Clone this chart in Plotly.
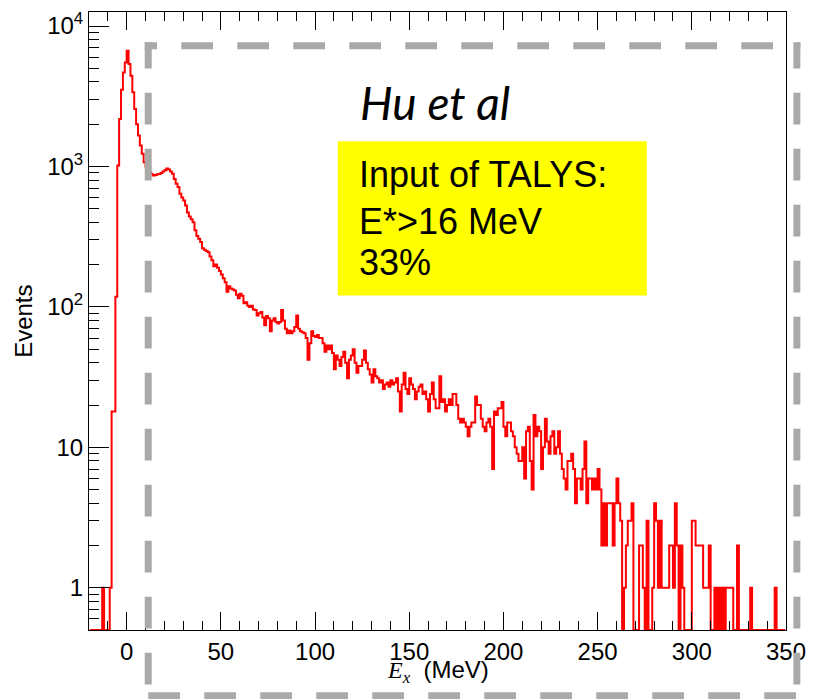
import numpy as np
import plotly.graph_objects as go

# Excitation-energy spectrum, 1 MeV bins; bin_edges_lo is the lower edge of the first bin
bin_edges_lo = -20
bin_width = 1.0

# Event counts per bin, ten bins per row starting at -20 MeV
counts = [
    0, 0, 0, 0, 0, 0, 0, 1, 0, 0,                            # -20 .. -11
    0, 1, 18, 18, 118, 1016, 2177, 3524, 4677, 5508,         # -10 .. -1
    6670, 5360, 4430, 3370, 2570, 2000, 1660, 1410, 1230, 1073,  # 0 .. 9
    1000, 950, 910, 880, 863, 870, 880, 885, 900, 920,       # 10 .. 19
    940, 968, 950, 920, 887, 813, 753, 713, 640, 600,        # 20 .. 29
    573, 528, 470, 440, 420, 400, 351, 320, 306, 290,        # 30 .. 39
    262, 255, 250, 245, 228, 215, 195, 200, 190, 180,        # 40 .. 49
    170, 160, 150, 128, 140, 135, 133, 131, 122, 115,        # 50 .. 59
    124, 120, 106, 108, 102, 100, 102, 96, 95, 87,           # 60 .. 69
    90, 92, 84, 74, 86, 83, 67, 80, 83, 78,                  # 70 .. 79
    76, 78, 95, 80, 70, 65, 68, 65, 67, 72,                  # 80 .. 89
    87, 70, 67, 66, 65, 60, 42, 55, 67, 62,                  # 90 .. 99
    61, 63, 60, 60, 55, 48, 53, 50, 53, 47,                  # 100 .. 109
    36, 45, 42, 38, 44, 48, 40, 31, 42, 45,                  # 110 .. 119
    50, 40, 34, 38, 38, 42, 49, 40, 36, 33,                  # 120 .. 129
    29, 36, 32, 31, 29, 30, 26, 28, 29, 27,                  # 130 .. 139
    30, 28, 29, 31, 25, 18, 28, 34, 26, 24,                  # 140 .. 149
    31, 28, 26, 22, 25, 27, 28, 24, 25, 22,                  # 150 .. 159
    18, 24, 29, 22, 19, 19, 32, 21, 22, 18,                  # 160 .. 169
    20, 22, 20, 24, 24, 20, 16, 15, 16, 15,                  # 170 .. 179
    14, 12, 14, 15, 15, 23, 20, 20, 16, 14,                  # 180 .. 189
    13, 15, 16, 14, 7, 18, 17, 19, 19, 21,                   # 190 .. 199
    14, 12, 15, 15, 13, 12, 10, 9, 8, 8,                     # 200 .. 209
    10, 6, 13, 14, 8, 5, 17, 12, 14, 13,                     # 210 .. 219
    7, 10, 16, 11, 9, 12, 13, 9, 10, 13,                     # 220 .. 229
    9, 7, 6, 5, 8, 8, 9, 7, 4, 6,                            # 230 .. 239
    6, 5, 7, 11, 4, 6, 6, 5, 6, 5,                           # 240 .. 249
    7, 5, 2, 4, 2, 4, 4, 4, 2, 4,                            # 250 .. 259
    6, 4, 3, 0, 1, 2, 3, 3, 4, 0,                            # 260 .. 269
    0, 0, 2, 2, 1, 0, 3, 0, 0, 1,                            # 270 .. 279
    4, 3, 1, 3, 1, 1, 1, 1, 2, 2,                            # 280 .. 289
    1, 4, 2, 0, 2, 1, 0, 0, 0, 0,                            # 290 .. 299
    3, 3, 2, 2, 2, 2, 1, 1, 1, 2,                            # 300 .. 309
    0, 0, 1, 0, 1, 0, 1, 0, 1, 1,                            # 310 .. 319
    1, 1, 0, 0, 2, 0, 0, 0, 0, 0,                            # 320 .. 329
    0, 1, 0, 0, 0, 0, 0, 0, 0, 0,                            # 330 .. 339
    0, 0, 0, 0, 1, 0, 0, 0, 0, 0,                            # 340 .. 349
]

y_major_vals = [1, 10, 100, 1000, 10000]
y_major_text = ["1", "10", "10<sup>2</sup>", "10<sup>3</sup>", "10<sup>4</sup>"]
y_minor_vals = [m * 10.0 ** e for e in range(-1, 4) for m in range(2, 10) if m * 10.0 ** e >= 0.6]

x_range = [-20, 350]
y_min = 0.5
y_range = [np.log10(y_min), 4.1]

counts = np.asarray(counts, dtype=float)
centers = bin_edges_lo + bin_width * (np.arange(len(counts)) + 0.5)
# empty bins sit on the lower frame edge, like a ROOT log-scale histogram
y_plot = np.where(counts > 0, counts, y_min)

W, H = 815, 699
ML, MR, MT, MB = 89, 20, 9, 69
PW, PH = W - ML - MR, H - MT - MB


def px(xp):
    return (xp - ML) / PW


def py(yp):
    return (H - MB - yp) / PH


fig = go.Figure()
fig.add_trace(go.Scatter(
    x=centers, y=y_plot, mode="lines",
    line=dict(color="#ff0000", width=2, shape="hvh"),
    hoverinfo="skip", showlegend=False,
))

tick_font = dict(family="Liberation Sans, Arial, sans-serif", size=24, color="black")

fig.update_xaxes(
    range=x_range, tick0=0, dtick=50, ticks="inside", ticklen=18, tickwidth=1,
    tickcolor="black", showline=True, linecolor="black", linewidth=1,
    mirror="ticks", showgrid=False, zeroline=False, tickfont=tick_font,
    ticklabeloverflow="allow",
    minor=dict(dtick=10, tick0=0, ticks="inside", ticklen=9, tickwidth=1,
               tickcolor="black", showgrid=False),
)
fig.update_yaxes(
    type="log", range=y_range, tickmode="array", tickvals=y_major_vals,
    ticktext=y_major_text, ticks="inside", ticklen=20, tickwidth=1,
    tickcolor="black", showline=True, linecolor="black", linewidth=1,
    mirror=True, showgrid=False, zeroline=False, tickfont=tick_font,
    ticklabeloverflow="allow",
    minor=dict(tickmode="array", tickvals=y_minor_vals, ticks="inside",
               ticklen=10, tickwidth=1, tickcolor="black", showgrid=False),
)

# dashed grey frame, each side drawn with its own dash phase
DASH_ON, DASH_OFF = 31.7, 24.3
GREY = "#aba8a8"
LW = 7


def dash_list(first_on, first_off, length):
    parts = [first_on, first_off]
    total = first_on + first_off
    while total < length + DASH_ON + DASH_OFF:
        parts += [DASH_ON, DASH_OFF]
        total += DASH_ON + DASH_OFF
    return ",".join(f"{p:.1f}px" for p in parts)


frame_left, frame_right, frame_top, frame_bottom = 149, 806, 43, 696
half = LW / 2
sides = [
    # (x0, y0, x1, y1, first dash, first gap)
    (frame_left - half, frame_top, frame_right + half, frame_top, 157.7 - (frame_left - half), 24.3),
    (frame_left, frame_top - half, frame_left, frame_bottom + half, 65.7 - (frame_top - half), 24.3),
    (frame_right, frame_top - half, frame_right, frame_bottom + half, 65.7 - (frame_top - half), 24.3),
    (frame_left, frame_bottom, frame_right + half, frame_bottom, DASH_ON, DASH_OFF),
]
shapes = []
for x0, y0, x1, y1, on0, off0 in sides:
    length = abs(x1 - x0) + abs(y1 - y0)
    shapes.append(dict(
        type="line", xref="paper", yref="paper",
        x0=px(x0), y0=py(y0), x1=px(x1), y1=py(y1),
        line=dict(color=GREY, width=LW, dash=dash_list(on0, off0, length)),
        layer="above",
    ))

# yellow note box
shapes.append(dict(
    type="rect", xref="paper", yref="paper",
    x0=px(341), x1=px(654), y0=py(294), y1=py(139),
    fillcolor="#ffff00", line=dict(width=0), layer="above",
))

note_font = dict(family="Liberation Sans, Arial, sans-serif", size=36, color="black")
note_lines = ["Input of TALYS:", "E*>16 MeV", "33%"]
note_centers = [172.5, 219.2, 260.8]

annotations = [
    dict(text="<i>Hu et al</i>", xref="paper", yref="paper", x=px(361), y=py(100),
         xanchor="left", yanchor="middle", showarrow=False,
         font=dict(family="Lato, Open Sans, sans-serif", size=46, color="black")),
    dict(text="Events", xref="paper", yref="paper", x=px(22), y=0.5,
         xanchor="center", yanchor="middle", textangle=-90, showarrow=False,
         font=dict(family="Liberation Sans, Arial, sans-serif", size=24, color="black")),
    dict(text="<span style=\"font-family:'Liberation Serif'\"><i>E</i><sub><i>x</i></sub></span>&nbsp; (MeV)",
         xref="paper", yref="paper", x=0.5, y=py(672),
         xanchor="center", yanchor="middle", showarrow=False,
         font=dict(family="Liberation Sans, Arial, sans-serif", size=24, color="black")),
]
for txt, yc in zip(note_lines, note_centers):
    annotations.append(dict(
        text=txt, xref="paper", yref="paper", x=px(360), y=py(yc),
        xanchor="left", yanchor="middle", showarrow=False, font=note_font,
    ))

fig.update_layout(
    width=W, height=H,
    margin=dict(l=ML, r=MR, t=MT, b=MB, pad=0),
    paper_bgcolor="white", plot_bgcolor="white",
    shapes=shapes, annotations=annotations,
)

fig.write_html("out.html")
